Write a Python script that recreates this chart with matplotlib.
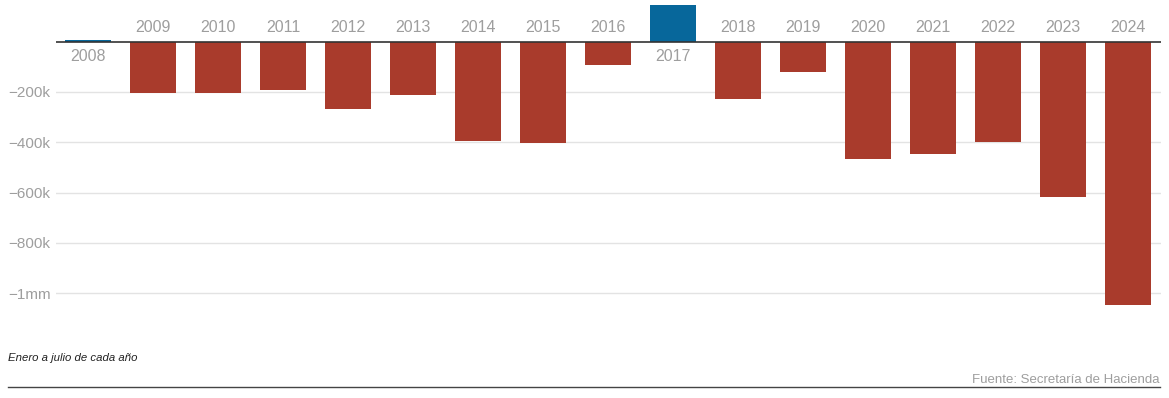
import matplotlib
matplotlib.use("Agg")

import matplotlib.pyplot as plt
from matplotlib.lines import Line2D

years = ["2008", "2009", "2010", "2011", "2012", "2013", "2014", "2015", "2016",
         "2017", "2018", "2019", "2020", "2021", "2022", "2023", "2024"]
balance = [8e3, -206e3, -206e3, -191e3, -267e3, -211e3, -394e3, -402e3, -94e3,
           147e3, -229e3, -122e3, -465e3, -446e3, -398e3, -619e3, -1045e3]
tick_vals = [-200e3, -400e3, -600e3, -800e3, -1e6]
tick_labels = ["\u2212200k", "\u2212400k", "\u2212600k", "\u2212800k", "\u22121mm"]

W, H = 1169, 398
RED = "#a93b2c"
BLUE = "#07679b"
GRAY = "#9e9e9e"

plt.rcParams["font.family"] = ["Liberation Sans", "DejaVu Sans"]

fig = plt.figure(figsize=(W / 100, H / 100), dpi=100)
# axes in pixel coordinates: left 55.5, right 1160.5, top 0, bottom 313.5
left, right, top, bottom = 55.5, 1160.5, 0, 313.5
ax = fig.add_axes([left / W, 1 - bottom / H, (right - left) / W, (bottom - top) / H])

x = list(range(len(years)))
colors = [BLUE if v > 0 else RED for v in balance]
ax.bar(x, balance, width=0.71, color=colors, zorder=2)

ax.set_xlim(-0.5, len(years) - 0.5)
ax.set_ylim(-1.08e6, 0.165e6)

for v in tick_vals:
    ax.axhline(v, color="#e3e3e3", lw=1, zorder=0)
ax.axhline(0, color="#333333", lw=1.2, zorder=3)

ax.set_yticks(tick_vals)
ax.set_yticklabels(tick_labels)
ax.tick_params(axis="y", length=0, pad=34.2, labelsize=11, labelcolor=GRAY)
for lab in ax.get_yticklabels():
    lab.set_horizontalalignment("left")
ax.set_xticks([])
for s in ax.spines.values():
    s.set_visible(False)

for xi, yr, v in zip(x, years, balance):
    off = -11 if v > 0 else 10
    ax.annotate(yr, (xi, 0), xytext=(0, off), textcoords="offset points",
                ha="center", va="center", fontsize=11.5, color=GRAY, zorder=4)

fig.text(8 / W, 1 - 358 / H, "Enero a julio de cada a\u00f1o", fontsize=8.2,
         style="italic", color="#222222", ha="left", va="center")
fig.text(1160 / W, 1 - 380 / H, "Fuente: Secretar\u00eda de Hacienda", fontsize=9.5,
         color=GRAY, ha="right", va="center")
fig.add_artist(Line2D([8 / W, 1160 / W], [1 - 387 / H, 1 - 387 / H],
                      color="#444444", lw=1, transform=fig.transFigure))

fig.savefig("out.png", dpi=100)
